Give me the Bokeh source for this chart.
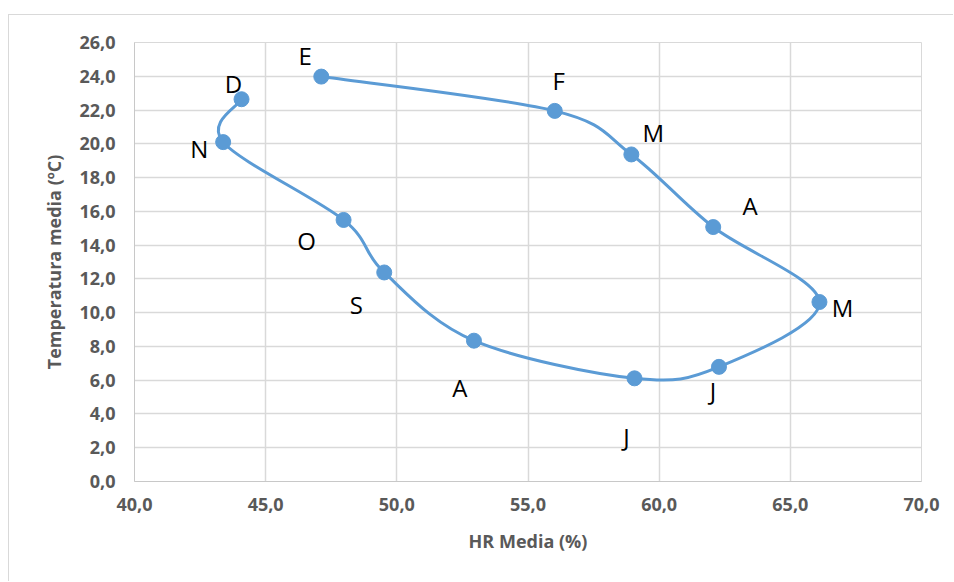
import numpy as np
from bokeh.plotting import figure
from bokeh.models import ColumnDataSource, Range1d, FixedTicker
from bokeh.core.properties import value
from bokeh.embed import file_html
from bokeh.resources import INLINE

# ---- data ----
months = ["E", "F", "M", "A", "M", "J", "J", "A", "S", "O", "N", "D"]
hr_media = [47.12, 56.02, 58.94, 62.06, 66.11, 62.28, 59.06, 52.94, 49.52, 47.97, 43.38, 44.08]
temp_media = [23.98, 21.95, 19.37, 15.07, 10.63, 6.79, 6.11, 8.34, 12.38, 15.49, 20.10, 22.64]

x_ticks = [40, 45, 50, 55, 60, 65, 70]
x_tick_labels = ["40,0", "45,0", "50,0", "55,0", "60,0", "65,0", "70,0"]
y_ticks = [0, 2, 4, 6, 8, 10, 12, 14, 16, 18, 20, 22, 24, 26]
y_tick_labels = ["0,0", "2,0", "4,0", "6,0", "8,0", "10,0", "12,0", "14,0",
                 "16,0", "18,0", "20,0", "22,0", "24,0", "26,0"]

# label offsets in screen pixels (style, not data)
label_dx = [-16, 4, 22, 37, 23, -6, -8, -14, -28, -37, -24, -8]
label_dy = [-21, -30, -22, -22, 5, 24, 58, 47, 32, 21, 6, -16]

LINE = "#5b9bd5"
GRID = "#d9d9d9"
TXT = "#595959"

p = figure(width=945, height=567, output_backend="svg", toolbar_location=None,
           x_range=Range1d(40, 70), y_range=Range1d(0, 26),
           min_border_left=125, min_border_top=27, min_border_right=33,
           min_border_bottom=101,
           margin=(14, 0, 0, 8),
           styles={"border-left": "1px solid #d9d9d9", "border-top": "1px solid #d9d9d9"})
p.background_fill_color = "white"
p.border_fill_color = "white"
p.outline_line_color = GRID
p.outline_line_width = 1

# smooth line (Catmull-Rom style bezier control points from the data)
x = np.array(hr_media)
y = np.array(temp_media)
n = len(x)
x0, y0, x1, y1, cx0, cy0, cx1, cy1 = [], [], [], [], [], [], [], []
for i in range(n - 1):
    a = i - 1 if i > 0 else i
    d = i + 2 if i + 2 < n else i + 1
    x0.append(x[i]); y0.append(y[i])
    x1.append(x[i + 1]); y1.append(y[i + 1])
    cx0.append(x[i] + (x[i + 1] - x[a]) / 6)
    cy0.append(y[i] + (y[i + 1] - y[a]) / 6)
    cx1.append(x[i + 1] - (x[d] - x[i]) / 6)
    cy1.append(y[i + 1] - (y[d] - y[i]) / 6)
bsrc = ColumnDataSource(dict(x0=x0, y0=y0, x1=x1, y1=y1, cx0=cx0, cy0=cy0, cx1=cx1, cy1=cy1))
p.bezier(x0="x0", y0="y0", x1="x1", y1="y1", cx0="cx0", cy0="cy0", cx1="cx1", cy1="cy1",
         source=bsrc, line_color=LINE, line_width=3, line_cap="round")

src = ColumnDataSource(dict(x=hr_media, y=temp_media, m=months, dx=label_dx, dy=label_dy))
p.scatter("x", "y", source=src, size=15, fill_color=LINE, line_color=LINE)
p.text("x", "y", text="m", source=src, x_offset="dx", y_offset="dy",
       text_font=value("Open Sans"), text_font_size="24px", text_color="black",
       text_align="center", text_baseline="middle")

# axes
for ax in (p.xaxis[0], p.yaxis[0]):
    ax.major_tick_line_color = None
    ax.minor_tick_line_color = None
    ax.major_tick_out = 0
    ax.major_tick_in = 0
    ax.axis_line_color = "#c8c8c8"
    ax.axis_line_width = 1
    ax.major_label_text_font = "Open Sans"
    ax.major_label_text_font_style = "bold"
    ax.major_label_text_font_size = "18px"
    ax.major_label_text_color = TXT
    ax.axis_label_text_font = "Open Sans"
    ax.axis_label_text_font_style = "bold"
    ax.axis_label_text_font_size = "18px"
    ax.axis_label_text_color = TXT

p.xaxis.ticker = FixedTicker(ticks=x_ticks)
p.yaxis.ticker = FixedTicker(ticks=y_ticks)
p.xaxis.major_label_overrides = {t: l for t, l in zip(x_ticks, x_tick_labels)}
p.yaxis.major_label_overrides = {t: l for t, l in zip(y_ticks, y_tick_labels)}
p.xaxis.axis_label = "HR Media (%)"
p.yaxis.axis_label = "Temperatura media (ºC)"
p.xaxis.major_label_standoff = 16
p.yaxis.major_label_standoff = 19
p.xaxis.axis_label_standoff = 15
p.yaxis.axis_label_standoff = 10

p.xgrid.ticker = FixedTicker(ticks=x_ticks)
p.ygrid.ticker = FixedTicker(ticks=y_ticks)
p.xgrid.grid_line_color = GRID
p.ygrid.grid_line_color = GRID
p.xgrid.grid_line_width = 1.5
p.ygrid.grid_line_width = 1.5

open("out.html", "w").write(file_html(p, INLINE))
